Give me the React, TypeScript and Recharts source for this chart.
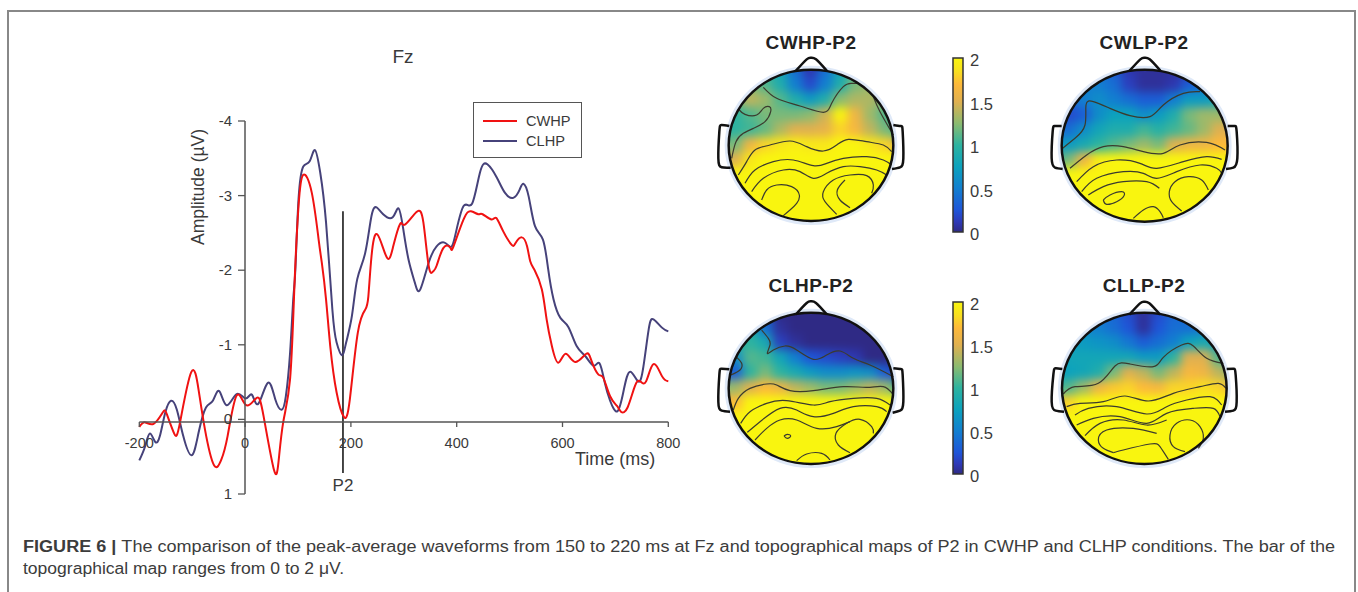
import React from "react";
import { LineChart, ComposedChart, BarChart, Bar, Line, Scatter, XAxis, YAxis, ReferenceLine, ReferenceDot, Legend } from "recharts";

// ---------- waveform data: time (ms), amplitude (uV) ----------
const cwhpTime = [-200,-189,-173,-156,-148,-134,-123,-102,-88,-76,-59,-45,-33,-16,2,22,35,54,63,72,85,93,101,110,126,139,145,153,161,173,187,198,213,227,233,239,250,268,280,293,302,324,337,347,355,362,375,388,394,413,427,441,449,466,475,488,504,511,523,533,539,548,561,570,580,592,606,624,645,655,668,677,690,703,711,723,737,747,758,772,788,800];
const cwhpValues = [0.10,0.04,0.06,-0.09,-0.07,0.19,0.04,-0.63,-0.40,0.13,0.61,0.54,0.22,-0.32,-0.19,-0.29,-0.04,0.66,0.58,0.04,-0.54,-1.74,-2.86,-3.28,-3.04,-2.41,-2.10,-1.61,-0.98,-0.36,-0.03,-0.27,-1.16,-1.47,-1.65,-2.19,-2.48,-2.17,-2.32,-2.62,-2.61,-2.78,-2.64,-2.06,-1.98,-2.06,-2.30,-2.30,-2.32,-2.68,-2.79,-2.75,-2.75,-2.68,-2.70,-2.52,-2.34,-2.36,-2.44,-2.32,-2.12,-1.99,-1.74,-1.34,-0.98,-0.76,-0.88,-0.77,-0.88,-0.78,-0.60,-0.56,-0.31,-0.18,-0.10,-0.16,-0.45,-0.51,-0.51,-0.74,-0.58,-0.51];
const clhpTime = [-200,-189,-180,-170,-161,-151,-140,-129,-117,-101,-88,-74,-61,-49,-35,-16,1,13,25,43,57,69,77,85,91,95,101,110,122,132,142,153,165,173,183,191,202,212,227,239,249,261,279,290,299,309,321,331,347,362,377,388,397,413,429,444,458,476,491,507,519,526,536,548,563,573,583,596,611,627,643,659,670,680,690,704,716,728,743,753,763,772,788,800];
const clhpValues = [0.55,0.36,0.19,0.30,0.22,-0.09,-0.25,-0.13,0.22,0.48,0.18,-0.16,-0.25,-0.38,-0.19,-0.34,-0.28,-0.33,-0.21,-0.49,-0.27,-0.13,-0.31,-0.89,-1.61,-2.01,-2.95,-3.39,-3.46,-3.61,-3.31,-2.64,-1.47,-1.03,-0.86,-1.03,-1.39,-1.88,-2.23,-2.73,-2.84,-2.75,-2.71,-2.83,-2.55,-2.14,-1.83,-1.74,-2.10,-2.32,-2.37,-2.31,-2.46,-2.86,-2.89,-3.31,-3.42,-3.24,-3.04,-2.97,-3.08,-3.16,-2.99,-2.59,-2.41,-2.01,-1.61,-1.36,-1.24,-0.98,-0.85,-0.72,-0.75,-0.49,-0.25,-0.11,-0.40,-0.64,-0.51,-0.71,-1.21,-1.34,-1.23,-1.18];
const xTicks = [-200, 0, 200, 400, 600, 800];
const yTicks = [-4, -3, -2, -1, 0, 1];
const p2Time = 185;
const p2Span = [-2.79, 0.72];

// ---------- colour scale of the maps ----------
const barTicks = [0, 0.5, 1, 1.5, 2];
const scaleValues = [0, 0.12, 0.25, 0.5, 0.75, 1, 1.25, 1.5, 1.7, 1.85, 2];
const scaleColors = ["#2f2a85","#2e3ab8","#1f55d8","#127fd0","#0ca2bd","#2db3a0","#8cbb70","#e0b050","#fdb93a","#f8e020","#f9f50f"];

// ---------- scalp maps: amplitude on a coarse sensor grid ----------
const Y = [2,2,2,2,2,2,2,2,2,2,2,2,2];
const gridOffsets = [-270,-225,-180,-135,-90,-45,0,45,90,135,180,225,270];
const cwhpGrid = [
  [1.1,1.1,1.1,1,.8,.4,.1,.4,.8,1,1.1,1.1,1.1],
  [1.1,1.1,1.1,1,.8,.4,.1,.4,.8,1.1,1.2,1.1,1.1],
  [1.2,1.2,1.2,1.1,.9,.5,.2,.5,.9,1.2,1.3,1.2,1.1],
  [1.2,1.2,1.4,1.3,1.1,.9,.7,.9,1.25,1.35,1.35,1.2,1.0],
  [1,1,1.1,1.2,1.2,1.2,1.25,1.45,2,1.6,1.3,1.1,1],
  [1,1,1.05,1.15,1.35,1.5,1.5,1.55,1.8,1.65,1.4,1.2,1],
  [1.2,1.2,1.6,1.8,1.9,1.95,1.9,1.9,2,2,1.9,1.8,1.5],
  [1.4,1.5,1.9,2,2,2,2,2,2,2,2,2,2],
  Y,Y,Y,Y,Y,
];
const cwlpGrid = [
  [.4,.4,.4,.4,.3,.1,.05,.05,.05,.1,.3,.4,.4],
  [.5,.5,.5,.4,.3,.1,.05,.05,.05,.1,.3,.4,.5],
  [.5,.5,.5,.5,.4,.15,.05,.05,.1,.3,.4,.5,.6],
  [.4,.4,.5,.6,.5,.4,.3,.3,.5,.7,.7,.8,.9],
  [.2,.2,.3,.6,.75,.75,.6,.7,.9,1.2,1.3,1.3,1.2],
  [.4,.4,.6,.8,.9,.9,1.05,.95,1.05,1.15,1.3,1.5,1.5],
  [.7,.7,.85,1,1.1,1.2,1.3,1.2,1.5,1.6,1.6,1.7,1.7],
  [1,1.2,1.6,1.95,2,2,2,2,2,2,2,2,2],
  Y,Y,Y,Y,Y,
];
const clhpGrid = [
  [.9,.9,.8,.3,0,0,0,0,0,0,0,0,0],
  [.9,.9,.8,.3,0,0,0,0,0,0,0,0,0],
  [.9,.9,.9,.4,.05,0,0,0,0,0,0,0,0],
  [1,1,1,.85,.15,.05,0,0,0,0,0,0,0],
  [.6,.6,1.1,1.05,.8,.5,.25,.2,.15,.1,0,0,0],
  [.3,.3,1,1.2,1,.85,.7,.6,.6,.65,.6,.3,.1],
  [1.2,1.3,1.5,1.7,1.6,1.4,1.3,1.2,1.2,1.3,1.4,1.3,1],
  [1.7,1.7,2,2,2,2,2,2,2,2,2,2,2],
  Y,Y,Y,Y,Y,
];
const cllpGrid = [
  [.5,.5,.5,.45,.35,.2,.05,.2,.35,.4,.45,.45,.45],
  [.5,.5,.5,.45,.35,.2,.05,.2,.35,.4,.45,.45,.45],
  [.6,.6,.55,.5,.4,.25,.05,.25,.4,.4,.45,.5,.5],
  [.7,.7,.7,.65,.6,.45,.3,.4,.5,.75,.85,.7,.65],
  [.8,.8,.8,.8,.8,.8,.7,.7,1,1.5,1.5,1.1,.8],
  [.75,.75,.8,.9,1.2,1.5,1.4,1.2,1.4,1.65,1.6,1.4,1.2],
  [1,1.1,1.3,1.6,1.75,1.8,1.7,1.65,1.8,1.8,1.85,1.8,1.6],
  [1.6,1.8,2,2,2,2,2,2,2,2,2,2,2],
  Y,Y,Y,Y,Y,
];

type P = [number, number];
// contour lines and head shapes, in scalp units
const cwhpContours: P[][] = [
  [[160,187],[200,220],[270,243],[340,262],[365,235],[400,185],[425,175],[445,175]],
  [[490,215],[510,260],[550,330]],
  [[85,252],[105,268],[140,270],[160,250],[178,245],[182,260],[165,290],[130,310],[100,325],[78,350],[65,400]],
  [[85,450],[110,410],[135,375],[180,360],[240,348],[290,365],[340,378],[380,360],[415,343],[470,350],[520,360],[545,380]],
  [[105,475],[135,435],[190,410],[250,405],[310,422],[350,415],[400,400],[470,395],[520,405],[545,420]],
  [[125,500],[160,460],[220,435],[270,440],[310,460],[350,445],[400,425],[450,425],[500,435],[530,450]],
  [[155,525],[170,495],[200,480],[245,485],[268,510],[260,535],[240,555],[220,572]],
  [[380,568],[345,530],[340,500],[370,465],[420,450],[470,452],[490,480],[485,505]],
  [[420,548],[390,525],[382,495],[405,465]],
];
const cwlpContours: P[][] = [
  [[188,370],[225,340],[255,300],[258,240],[280,230],[330,250],[390,272],[450,275],[490,240],[550,205],[600,200]],
  [[210,430],[260,390],[310,365],[370,365],[430,380],[490,385],[540,360],[620,352],[675,375]],
  [[230,470],[280,425],[350,405],[420,415],[470,430],[550,410],[620,395],[665,403]],
  [[245,500],[290,460],[370,440],[430,445],[470,460],[530,440],[600,420],[650,430],[665,445]],
  [[265,510],[310,485],[370,470],[440,470],[478,490]],
  [[545,558],[515,530],[508,500],[525,470],[565,455],[605,465],[625,495]],
  [[310,525],[330,510],[365,500],[372,512],[350,530],[320,538],[310,525]],
  [[400,580],[430,555],[460,545],[480,560],[490,578]],
];
const clhpContours: P[][] = [
  [[155,180],[175,205],[180,225],[172,250],[190,240],[225,228],[260,240],[310,268],[350,255],[390,243],[430,265],[480,285],[550,320]],
  [[80,262],[95,280],[90,300],[62,315]],
  [[70,420],[85,385],[120,355],[170,342],[200,345],[240,362],[310,362],[400,350],[470,352],[520,350],[548,372]],
  [[92,460],[120,425],[170,400],[230,392],[310,405],[360,395],[430,385],[500,385],[540,405]],
  [[112,487],[150,455],[210,415],[260,420],[310,440],[370,430],[430,410],[500,410],[530,425]],
  [[135,510],[170,475],[210,450],[260,450],[320,475],[380,470],[420,455]],
  [[420,548],[385,525],[378,490],[410,460],[450,448],[485,470],[490,490]],
  [[222,498],[232,493],[242,498],[232,505],[222,498]],
  [[260,572],[290,552],[335,550],[360,570]],
];
const cllpContours: P[][] = [
  [[190,372],[225,350],[295,340],[345,288],[390,282],[460,290],[490,262],[545,225],[580,228],[620,265],[670,280]],
  [[200,410],[240,400],[310,395],[375,378],[445,393],[520,370],[600,350],[655,340],[678,355]],
  [[225,435],[265,415],[350,410],[440,432],[500,410],[560,390],[630,380],[665,405]],
  [[230,465],[280,445],[360,440],[440,460],[500,430],[580,415],[640,415],[660,440]],
  [[255,497],[300,460],[370,450],[440,465],[500,450]],
  [[340,548],[310,535],[295,510],[320,480],[400,475],[470,490]],
  [[340,548],[370,540],[450,522],[480,530],[505,568]],
  [[555,545],[520,530],[510,495],[530,460],[570,450],[600,470],[610,505],[595,535]],
];
const nose = (cx: number, top: number): P[] => [[cx-45,top+39],[cx-13,top+5],[cx,top],[cx+15,top+5],[cx+47,top+39]];
const maps = [
  { id:"cwhp", title:"CWHP-P2", tx:811, ty:49, left:710, top:25, w:290, cx:303, cy:361, rx:247, ry:227, grid:cwhpGrid, contours:cwhpContours, nose:nose(303,98),
    ears:[[[58,303],[35,300],[28,320],[25,400],[35,427],[62,428]],[[550,300],[572,303],[578,320],[580,400],[570,427],[546,432]]] as P[][] },
  { id:"cwlp", title:"CWLP-P2", tx:1144, ty:49, left:1000, top:25, w:250, cx:434, cy:362, rx:249, ry:228, grid:cwlpGrid, contours:cwlpContours, nose:nose(434,98),
    ears:[[[185,303],[165,303],[158,320],[155,400],[165,428],[188,432]],[[683,303],[703,303],[710,320],[712,400],[700,428],[678,432]]] as P[][] },
  { id:"clhp", title:"CLHP-P2", tx:811, ty:292, left:710, top:270, w:290, cx:303, cy:355, rx:247, ry:227, grid:clhpGrid, contours:clhpContours, nose:nose(303,94),
    ears:[[[58,298],[35,296],[28,315],[25,395],[35,422],[60,425]],[[550,295],[572,297],[578,315],[580,395],[570,422],[548,428]]] as P[][] },
  { id:"cllp", title:"CLLP-P2", tx:1144, ty:292, left:1000, top:270, w:250, cx:433, cy:355, rx:247, ry:227, grid:cllpGrid, contours:cllpContours, nose:nose(433,95),
    ears:[[[187,297],[167,295],[160,315],[155,395],[167,422],[192,425]],[[680,297],[700,296],[707,315],[710,395],[700,422],[675,425]]] as P[][] },
];
const bars = [{ top: 58, bottom: 232 }, { top: 302, bottom: 474 }];
const barData = [{ name: "scale", amplitude: 2 }];

const FONT = "'Liberation Sans', Arial, sans-serif";
const INK = "#3a3a3a";
const AXIS = "#555";

function hex(c: string) { return [1,3,5].map(i => parseInt(c.slice(i,i+2),16)); }
function colorOf(v: number) {
  const i = Math.min(scaleValues.findIndex(s => s >= v), scaleValues.length-1);
  if (i <= 0) return scaleColors[0];
  const f = (v-scaleValues[i-1])/(scaleValues[i]-scaleValues[i-1]);
  const a = hex(scaleColors[i-1]), b = hex(scaleColors[i]);
  return `rgb(${a.map((x,k)=>Math.round(x+(b[k]-x)*f)).join(",")})`;
}

const PLOT = { left: 139.3, right: 668.3, top: 121, bottom: 494 };
const AXIS_Y_SHIFT = 422 - PLOT.bottom;
const AXIS_X_SHIFT = 245 - PLOT.left;

const XTick = (p: any) => (
  <g>
    <line x1={p.x} x2={p.x} y1={PLOT.bottom+AXIS_Y_SHIFT} y2={PLOT.bottom+AXIS_Y_SHIFT+5} stroke={AXIS} strokeWidth={1.3}/>
    <text x={p.x} y={PLOT.bottom+AXIS_Y_SHIFT+26} textAnchor="middle" fontSize={14.5} fontFamily={FONT} fill={INK}>{p.payload.value}</text>
  </g>
);
const YTick = (p: any) => (
  <g>
    <line x1={PLOT.left+AXIS_X_SHIFT} x2={PLOT.left+AXIS_X_SHIFT-7} y1={p.y} y2={p.y} stroke={AXIS} strokeWidth={1.3}/>
    <text x={PLOT.left+AXIS_X_SHIFT-13} y={p.y+5} textAnchor="end" fontSize={15} fontFamily={FONT} fill={INK}>{p.payload.value}</text>
  </g>
);
const LegendBox = (props: any) => (
  <div style={{ width:109, height:56, boxSizing:"border-box", border:"1px solid #555", position:"relative", fontFamily:FONT, fontSize:14.6, color:INK, background:"#fff" }}>
    {(props.payload||[]).map((e: any, i: number) => (
      <div key={e.value} style={{ position:"absolute", left:9, top:10+i*20, display:"flex", alignItems:"center", height:16 }}>
        <span style={{ display:"inline-block", width:34, height:2, background:e.color, marginRight:9 }}/>
        {e.value}
      </div>
    ))}
  </div>
);

function Waveforms() {
  const zip = (t: number[], v: number[]) => t.map((time,i)=>({ time, amp: v[i] }));
  return (
    <LineChart width={1358} height={592} style={{position:"absolute",left:0,top:0}}
      margin={{ top:PLOT.top, left:PLOT.left-1, right:1358-PLOT.right, bottom:592-PLOT.bottom-1 }}>
      <XAxis dataKey="time" type="number" domain={[-200,800]} ticks={xTicks} height={1} interval={0} tickSize={0} tickMargin={0}
        axisLine={{ stroke:AXIS, strokeWidth:1.5, transform:`translate(0,${AXIS_Y_SHIFT})` }} tickLine={false} tick={XTick}/>
      <YAxis dataKey="amp" type="number" domain={[-4,1]} ticks={yTicks} reversed width={1} interval={0} tickSize={0} tickMargin={0}
        axisLine={{ stroke:AXIS, strokeWidth:1.5, transform:`translate(${AXIS_X_SHIFT},0)` }} tickLine={false} tick={YTick}/>
      <ReferenceLine segment={[{x:p2Time,y:p2Span[0]},{x:p2Time,y:p2Span[1]}]} stroke="#333" strokeWidth={1.8} ifOverflow="visible"/>
      <Line name="CLHP" data={zip(clhpTime,clhpValues)} dataKey="amp" type="natural" stroke="#46427a" strokeWidth={2} dot={false} isAnimationActive={false}/>
      <Line name="CWHP" data={zip(cwhpTime,cwhpValues)} dataKey="amp" type="natural" stroke="#f01212" strokeWidth={2} dot={false} isAnimationActive={false}/>
      <Legend layout="horizontal" verticalAlign="middle" itemSorter={(e: any)=> e.value==="CWHP"?0:1}
        wrapperStyle={{ position:"absolute", left:473, top:102, right:"auto", bottom:"auto", width:109, height:56 }} content={LegendBox}/>
    </LineChart>
  );
}

const mapAxes = (w: number) => [
  <XAxis key="x" dataKey="x" type="number" domain={[0,w*3]} hide/>,
  <YAxis key="y" dataKey="y" type="number" domain={[0,660]} reversed hide/>,
];

function ScalpMap({ m }: { m: typeof maps[number] }) {
  const cells = m.grid.flatMap((row,r)=>row.map((value,c)=>({ x:m.cx+gridOffsets[c], y:m.cy+gridOffsets[r], value })));
  const line = (pts: P[]) => pts.map(([x,y])=>({x,y}));
  const heatShape = (p: any) => <rect x={p.cx-8.5} y={p.cy-8.5} width={17} height={17} fill={colorOf(p.payload.value)}/>;
  const box = { position:"absolute" as const, left:m.left, top:m.top };
  return (
    <>
      <ComposedChart width={m.w} height={220} style={box} margin={{top:0,left:0,right:0,bottom:0}}>
        {mapAxes(m.w)}
        <ReferenceDot x={m.cx} y={m.cy} ifOverflow="visible" shape={(p: any)=>(
          <ellipse cx={p.cx} cy={p.cy} rx={m.rx/3+2.5} ry={m.ry/3+2.5} fill="none" stroke="#dfe9f8" strokeWidth={3}/>
        )}/>
        <Scatter className={`heat-${m.id}`} data={cells} dataKey="y" shape={heatShape} isAnimationActive={false}/>
      </ComposedChart>
      <ComposedChart width={m.w} height={220} style={box} margin={{top:0,left:0,right:0,bottom:0}}>
        {mapAxes(m.w)}
        {m.contours.map((c,i)=>(
          <Line key={i} data={line(c)} dataKey="y" type="natural" stroke="#3b3b2e" strokeWidth={1.2} dot={false} isAnimationActive={false}/>
        ))}
        <Line data={line(m.nose)} dataKey="y" type="natural" stroke="#111" strokeWidth={2.5} dot={false} isAnimationActive={false}/>
        {m.ears.map((e,i)=>(
          <Line key={`e${i}`} data={line(e)} dataKey="y" type="natural" stroke="#111" strokeWidth={2.5} dot={false} isAnimationActive={false}/>
        ))}
        <ReferenceDot x={m.cx} y={m.cy} ifOverflow="visible" shape={(p: any)=>(
          <ellipse cx={p.cx} cy={p.cy} rx={m.rx/3} ry={m.ry/3} fill="none" stroke="#111" strokeWidth={2.5}/>
        )}/>
      </ComposedChart>
    </>
  );
}

function ScaleBar({ top, bottom }: { top: number; bottom: number }) {
  const tick = (p: any) => (
    <text x={p.x+7} y={p.y+8} fontSize={16.5} fontFamily={FONT} fill={INK}>{p.payload.value}</text>
  );
  return (
    <BarChart width={60} height={bottom-top+30} data={barData} style={{position:"absolute",left:940,top:top-10}}
      margin={{top:10,left:13,right:36,bottom:20}} barCategoryGap={0}>
      <XAxis dataKey="name" hide/>
      <YAxis type="number" orientation="right" domain={[0,2]} ticks={barTicks} width={1} axisLine={false} tickLine={false} tickSize={0} tickMargin={0} tick={tick} interval={0}/>
      <Bar dataKey="amplitude" fill="url(#scaleGradient)" stroke="#333" strokeWidth={1.5} isAnimationActive={false}/>
    </BarChart>
  );
}

export default function App() {
  return (
    <div style={{ position:"absolute", left:0, top:0, width:1358, height:592, overflow:"hidden", background:"#fff" }}>
      <style>{maps.map(m=>`.heat-${m.id}{filter:url(#soft);clip-path:url(#scalp-${m.id});}`).join("")}</style>
      <svg width={0} height={0} style={{position:"absolute"}}>
        <defs>
          <filter id="soft" x="-20%" y="-20%" width="140%" height="140%" colorInterpolationFilters="sRGB">
            <feGaussianBlur stdDeviation={5}/>
          </filter>
          {maps.map(m=>(
            <clipPath key={m.id} id={`scalp-${m.id}`} clipPathUnits="userSpaceOnUse">
              <ellipse cx={m.cx/3} cy={m.cy/3} rx={m.rx/3} ry={m.ry/3}/>
            </clipPath>
          ))}
          <linearGradient id="scaleGradient" x1="0" y1="1" x2="0" y2="0">
            {scaleValues.map((v,i)=><stop key={v} offset={v/2} stopColor={scaleColors[i]}/>)}
          </linearGradient>
        </defs>
      </svg>
      <div style={{position:"absolute",left:7,top:10,right:2,bottom:-5,borderTop:"2px solid #888",borderLeft:"2px solid #888",borderRight:"2px solid #888"}}/>
      <Waveforms/>
      {maps.map(m=><ScalpMap key={m.id} m={m}/>)}
      {bars.map(b=><ScaleBar key={b.top} top={b.top} bottom={b.bottom}/>)}
      <svg width={1358} height={592} style={{position:"absolute",left:0,top:0,pointerEvents:"none"}} fontFamily={FONT}>
        <text x={403} y={63} textAnchor="middle" fontSize={19} fill={INK}>Fz</text>
        <text x={575} y={465} fontSize={18} fill={INK}>Time (ms)</text>
        <text x={343} y={491} textAnchor="middle" fontSize={17} fill={INK}>P2</text>
        <text transform="translate(204,187) rotate(-90)" textAnchor="middle" fontSize={17.5} fill={INK}>Amplitude (µV)</text>
        {maps.map(m=>(
          <text key={m.id} x={m.tx} y={m.ty} textAnchor="middle" fontSize={19} fontWeight="bold" letterSpacing={0.5} fill="#222">{m.title}</text>
        ))}
        <text x={23} y={552} fontSize={16} fill="#3c3c3c" textLength={1312} lengthAdjust="spacingAndGlyphs">
          <tspan fontWeight="bold">FIGURE 6 | </tspan>The comparison of the peak-average waveforms from 150 to 220 ms at Fz and topographical maps of P2 in CWHP and CLHP conditions. The bar of the
        </text>
        <text x={23} y={574} fontSize={16} fill="#3c3c3c" textLength={321} lengthAdjust="spacingAndGlyphs">topographical map ranges from 0 to 2 μV.</text>
      </svg>
    </div>
  );
}
